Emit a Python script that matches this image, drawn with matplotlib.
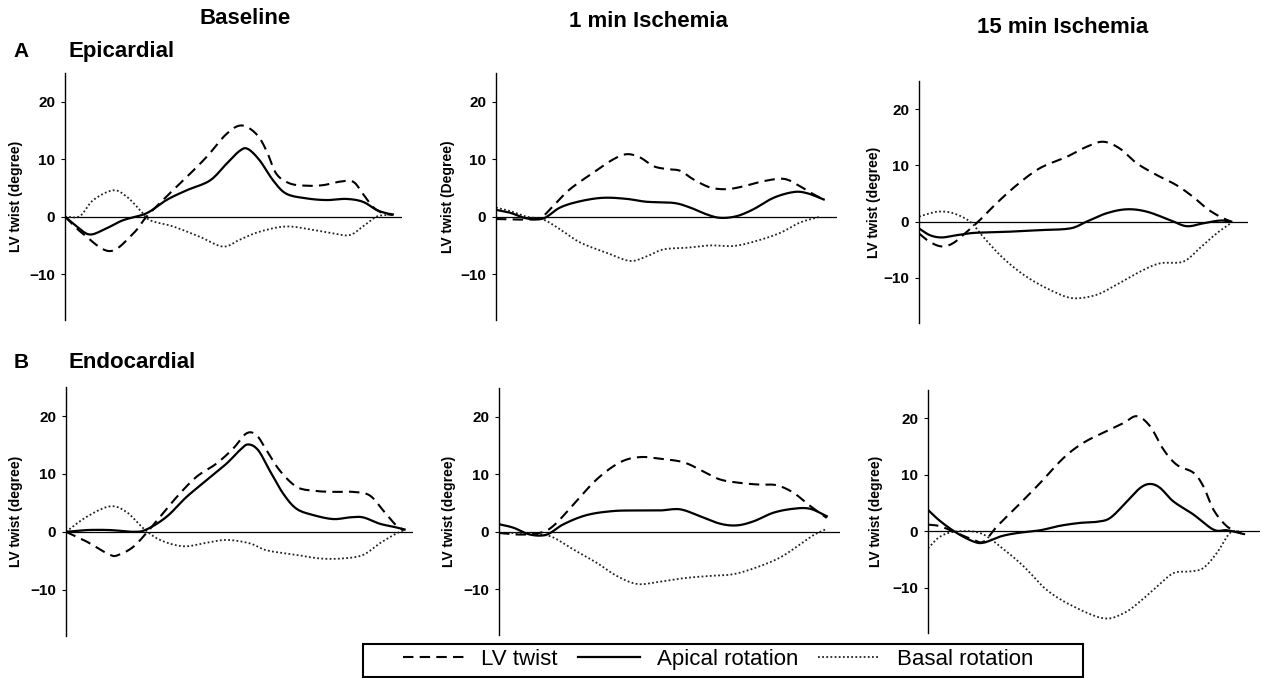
import matplotlib
matplotlib.use("Agg")
import matplotlib.pyplot as plt
from matplotlib.lines import Line2D
from matplotlib.patches import Rectangle
import numpy as np

plt.rcParams['font.family'] = ['Liberation Sans', 'DejaVu Sans']

# time axis is % of the cardiac cycle shown in each panel
# ---- A: Epicardial ----
epi_base_twist_x = [0, 5.4, 13.3, 20.3, 24.2, 30.1, 36.1, 42.0, 47.9, 52.4, 56.8, 59.8, 62.7, 66.7, 71.6, 76.6, 81.5, 85.5, 88.4, 91.4, 94.4, 97.3]
epi_base_twist_y = [0, -3.0, -6.0, -2.9, 0, 3.5, 6.9, 10.4, 14.4, 15.9, 14.4, 11.5, 7.5, 5.8, 5.4, 5.5, 6.1, 6.1, 4.0, 1.7, 0.6, 0.3]
epi_base_apical_x = [0, 3.5, 7.4, 12.4, 17.3, 24.2, 30.1, 36.1, 43.0, 47.9, 51.9, 54.3, 57.8, 61.8, 65.7, 71.6, 77.6, 83.5, 88.4, 92.4, 95.4, 97.3]
epi_base_apical_y = [0, -1.7, -3.1, -2.0, -0.6, 0.6, 2.9, 4.6, 6.3, 9.2, 11.5, 11.8, 9.8, 6.3, 4.0, 3.2, 2.9, 3.1, 2.6, 1.2, 0.6, 0.4]
epi_base_basal_x = [0, 4.4, 8.4, 14.3, 18.3, 22.2, 25.2, 32.1, 40.0, 46.9, 51.9, 57.8, 65.7, 73.6, 79.5, 84.5, 88.4, 92.4, 95.4]
epi_base_basal_y = [0, 0.1, 2.9, 4.6, 3.5, 1.2, -0.6, -1.7, -3.5, -5.2, -4.0, -2.6, -1.7, -2.3, -2.9, -3.2, -1.7, 0, 0.3]

epi_1min_twist_x = [0, 7.0, 12.9, 16.8, 21.7, 28.6, 34.4, 38.4, 42.3, 46.2, 50.1, 54.0, 57.9, 62.8, 67.7, 72.6, 78.5, 84.3, 88.3, 92.2, 96.1]
epi_1min_twist_y = [-0.4, -0.5, -0.2, 1.9, 4.8, 7.7, 10.0, 10.9, 10.3, 8.8, 8.3, 8.0, 6.5, 5.1, 4.8, 5.3, 6.2, 6.6, 5.6, 4.2, 3.0]
epi_1min_apical_x = [0, 4.1, 9.0, 13.9, 18.8, 24.7, 31.5, 38.4, 44.2, 52.1, 56.9, 61.8, 65.8, 70.6, 75.5, 81.4, 87.3, 91.2, 96.1]
epi_1min_apical_y = [1.2, 0.7, -0.3, -0.3, 1.6, 2.7, 3.3, 3.1, 2.6, 2.4, 1.6, 0.4, -0.2, 0.1, 1.3, 3.3, 4.3, 4.1, 3.0]
epi_1min_basal_x = [0, 4.1, 9.0, 13.9, 18.8, 24.7, 32.5, 39.3, 44.2, 49.1, 56.0, 62.8, 69.7, 76.5, 83.4, 89.2, 95.1]
epi_1min_basal_y = [1.6, 1.0, 0, -0.5, -2.2, -4.5, -6.3, -7.7, -6.9, -5.7, -5.4, -5.0, -5.1, -4.2, -2.8, -1.0, 0]

epi_15min_twist_x = [0, 3.3, 6.9, 10.4, 14.5, 18.5, 23.6, 29.7, 36.7, 44.8, 50.9, 56.0, 61.0, 66.1, 72.2, 78.2, 83.3, 87.3, 91.4, 94.9]
epi_15min_twist_y = [-2.1, -3.6, -4.4, -3.8, -1.8, 0.3, 3.3, 6.5, 9.5, 11.5, 13.3, 14.2, 13.0, 10.4, 8.3, 6.5, 4.4, 2.4, 0.9, 0]
epi_15min_apical_x = [0, 3.3, 6.9, 11.4, 16.5, 26.6, 36.7, 45.9, 50.9, 57.0, 63.1, 69.1, 76.2, 81.3, 86.3, 91.4, 94.9]
epi_15min_apical_y = [-1.2, -2.4, -2.8, -2.4, -2.0, -1.8, -1.5, -1.2, 0, 1.5, 2.2, 1.8, 0.3, -0.8, -0.3, 0.2, 0]
epi_15min_basal_x = [0, 3.3, 6.4, 10.4, 15.5, 19.5, 25.6, 32.7, 40.8, 46.9, 53.9, 60.0, 67.1, 73.2, 80.3, 85.3, 90.4, 94.9]
epi_15min_basal_y = [0.9, 1.5, 1.8, 1.5, 0, -2.7, -6.5, -9.8, -12.4, -13.6, -13.0, -11.2, -8.9, -7.4, -7.1, -4.7, -2.1, -0.2]

# ---- B: Endocardial ----
endo_base_twist_x = [0, 6.0, 12.7, 15.5, 19.4, 23.2, 27.1, 31.9, 37.6, 43.4, 48.2, 52.0, 54.9, 57.8, 61.6, 66.4, 71.2, 77.0, 82.7, 87.5, 91.4, 95.2, 97.6]
endo_base_twist_y = [0, -1.7, -4.0, -3.9, -2.6, -0.2, 2.6, 6.0, 9.5, 11.8, 14.4, 17.0, 16.7, 14.1, 10.6, 7.8, 7.1, 6.9, 6.9, 6.3, 3.7, 1.1, 0.3]
endo_base_apical_x = [0, 6.0, 12.7, 19.4, 23.2, 29.0, 34.7, 40.5, 46.3, 50.1, 52.5, 55.4, 58.7, 62.6, 66.4, 71.2, 77.0, 81.8, 85.6, 90.4, 94.2, 97.6]
endo_base_apical_y = [0, 0.3, 0.3, 0, 0.4, 2.6, 6.0, 8.9, 11.8, 14.1, 15.1, 14.1, 10.6, 6.6, 4.0, 2.9, 2.2, 2.5, 2.5, 1.4, 0.9, 0.4]
endo_base_basal_x = [0, 6.0, 12.7, 17.5, 22.3, 27.1, 33.8, 40.5, 46.3, 53.0, 57.8, 65.5, 73.1, 79.8, 85.6, 90.4, 95.2, 97.6]
endo_base_basal_y = [0, 2.6, 4.4, 3.4, 0.6, -1.4, -2.5, -1.9, -1.4, -2.0, -3.2, -3.9, -4.6, -4.6, -4.0, -2.0, -0.3, 0.3]

endo_1min_twist_x = [0, 6.2, 12.0, 15.9, 21.8, 28.6, 35.5, 41.3, 47.2, 54.1, 59.9, 64.8, 70.7, 76.5, 81.4, 86.3, 91.2, 96.1]
endo_1min_twist_y = [-0.2, -0.5, -0.2, 1.0, 4.7, 9.1, 12.1, 13.0, 12.7, 12.1, 10.5, 9.1, 8.5, 8.2, 8.1, 6.8, 4.5, 2.4]
endo_1min_apical_x = [0, 4.2, 9.1, 14.0, 18.9, 25.7, 33.5, 41.3, 47.2, 53.1, 58.9, 64.8, 69.7, 74.6, 80.4, 86.3, 91.2, 96.1]
endo_1min_apical_y = [1.3, 0.7, -0.5, -0.5, 1.3, 2.9, 3.6, 3.7, 3.7, 3.9, 2.7, 1.4, 1.1, 1.8, 3.3, 4.0, 4.0, 2.7]
endo_1min_basal_x = [0, 6.2, 12.0, 15.9, 21.8, 28.6, 34.5, 40.4, 46.2, 54.1, 61.9, 68.7, 75.6, 82.4, 88.3, 92.2, 96.1]
endo_1min_basal_y = [-0.3, -0.2, -0.5, -1.0, -3.1, -5.4, -7.7, -9.1, -8.8, -8.1, -7.7, -7.4, -6.2, -4.5, -2.2, -0.6, 0.5]

endo_15min_twist_x = [0, 3.7, 8.7, 13.7, 16.8, 20.8, 26.8, 33.8, 40.8, 46.8, 53.9, 58.9, 62.9, 66.9, 70.9, 74.9, 79.9, 82.9, 86.0, 90.0, 94.0, 95.5]
endo_15min_twist_y = [1.2, 0.9, -0.3, -1.5, -1.8, 0.9, 4.4, 8.6, 13.0, 15.7, 17.8, 19.2, 20.4, 18.6, 14.5, 11.8, 10.4, 8.0, 3.8, 0.9, -0.3, -0.5]
endo_15min_apical_x = [0, 3.7, 8.7, 13.7, 16.8, 21.8, 26.8, 33.8, 39.8, 45.8, 50.9, 54.9, 59.9, 63.9, 66.9, 69.9, 73.9, 79.9, 86.0, 90.0, 94.0]
endo_15min_apical_y = [3.8, 1.8, -0.3, -1.8, -2.0, -0.9, -0.3, 0.2, 1.0, 1.5, 1.7, 2.4, 5.3, 7.7, 8.4, 7.7, 5.3, 3.0, 0.3, 0.2, -0.3]
endo_15min_basal_x = [0, 3.7, 8.7, 15.7, 21.8, 28.8, 35.8, 43.8, 52.9, 58.9, 63.9, 68.9, 73.9, 78.9, 82.9, 87.0, 90.9, 94.0]
endo_15min_basal_y = [-3.0, -0.9, 0, -0.3, -2.7, -6.2, -10.4, -13.3, -15.4, -14.5, -12.4, -9.8, -7.4, -7.1, -6.5, -3.8, -0.3, 0]

col_titles = ["Baseline", "1 min Ischemia", "15 min Ischemia"]
ylabels = ["LV twist (degree)", "LV twist (Degree)", "LV twist (degree)",
           "LV twist (degree)", "LV twist (degree)", "LV twist (degree)"]
yticks = [-10, 0, 10, 20]
legend_labels = ["LV twist", "Apical rotation", "Basal rotation"]


def smooth(x, y, n=10):
    # catmull-rom through the read points
    x = np.asarray(x, float)
    y = np.asarray(y, float)
    px = np.concatenate([[2 * x[0] - x[1]], x, [2 * x[-1] - x[-2]]])
    py = np.concatenate([[2 * y[0] - y[1]], y, [2 * y[-1] - y[-2]]])
    t = np.linspace(0, 1, n, endpoint=False)
    ox, oy = [], []
    for i in range(1, len(px) - 2):
        for p, o in ((px, ox), (py, oy)):
            p0, p1, p2, p3 = p[i - 1], p[i], p[i + 1], p[i + 2]
            o.extend(0.5 * (2 * p1 + (-p0 + p2) * t + (2 * p0 - 5 * p1 + 4 * p2 - p3) * t ** 2
                            + (-p0 + 3 * p1 - 3 * p2 + p3) * t ** 3))
    ox.append(x[-1])
    oy.append(y[-1])
    return ox, oy


dash_style = dict(color='black', lw=1.5, linestyle=(0, (5, 3)))
solid_style = dict(color='black', lw=1.6, linestyle='-')
dot_style = dict(color='#222222', lw=1.3, linestyle=(0, (1, 1.3)))

panels = [
    ([0.0514, 0.528, 0.2666, 0.364], -0.125,
     (epi_base_twist_x, epi_base_twist_y), (epi_base_apical_x, epi_base_apical_y), (epi_base_basal_x, epi_base_basal_y)),
    ([0.3924, 0.528, 0.2698, 0.364], -0.12,
     (epi_1min_twist_x, epi_1min_twist_y), (epi_1min_apical_x, epi_1min_apical_y), (epi_1min_basal_x, epi_1min_basal_y)),
    ([0.7271, 0.5236, 0.2603, 0.357], -0.115,
     (epi_15min_twist_x, epi_15min_twist_y), (epi_15min_apical_x, epi_15min_apical_y), (epi_15min_basal_x, epi_15min_basal_y)),
    ([0.0522, 0.062, 0.2745, 0.367], -0.124,
     (endo_base_twist_x, endo_base_twist_y), (endo_base_apical_x, endo_base_apical_y), (endo_base_basal_x, endo_base_basal_y)),
    ([0.3948, 0.0634, 0.2698, 0.364], -0.126,
     (endo_1min_twist_x, endo_1min_twist_y), (endo_1min_apical_x, endo_1min_apical_y), (endo_1min_basal_x, endo_1min_basal_y)),
    ([0.7342, 0.0664, 0.2627, 0.358], -0.136,
     (endo_15min_twist_x, endo_15min_twist_y), (endo_15min_apical_x, endo_15min_apical_y), (endo_15min_basal_x, endo_15min_basal_y)),
]

fig = plt.figure(figsize=(12.64, 6.78), dpi=100)

for k, (rect, labx, twist, apical, basal) in enumerate(panels):
    ax = fig.add_axes(rect)
    ax.axhline(0, color='black', lw=0.9, zorder=1)
    ax.plot(*smooth(*basal), **dot_style)
    ax.plot(*smooth(*twist), **dash_style)
    ax.plot(*smooth(*apical), **solid_style)
    ax.set_xlim(0, 100)
    ax.set_ylim(-18, 25)
    ax.set_yticks(yticks)
    for s in ['top', 'right', 'bottom']:
        ax.spines[s].set_visible(False)
    ax.spines['left'].set_linewidth(1.0)
    ax.set_xticks([])
    ax.tick_params(axis='y', length=3, width=0.8, pad=4, labelsize=11)
    for lab in ax.get_yticklabels():
        lab.set_fontweight('bold')
    ax.set_ylabel(ylabels[k], fontsize=10, fontweight='bold')
    ax.yaxis.set_label_coords(labx, 0.5)

# column headers and row labels
fig.text(245 / 1264, 0.9646, col_titles[0], ha='center', va='baseline', fontsize=16, fontweight='bold')
fig.text(648 / 1264, 0.9607, col_titles[1], ha='center', va='baseline', fontsize=16, fontweight='bold')
fig.text(1063 / 1264, 0.9518, col_titles[2], ha='center', va='baseline', fontsize=16, fontweight='bold')
fig.text(13 / 1264, 0.916, "A", ha='left', va='baseline', fontsize=15, fontweight='bold')
fig.text(68 / 1264, 0.916, "Epicardial", ha='left', va='baseline', fontsize=16, fontweight='bold')
fig.text(14 / 1264, 0.457, "B", ha='left', va='baseline', fontsize=15, fontweight='bold')
fig.text(68 / 1264, 0.457, "Endocardial", ha='left', va='baseline', fontsize=16, fontweight='bold')

# legend without its own frame; the wide box is drawn separately
handles = [Line2D([], [], **dash_style), Line2D([], [], **solid_style), Line2D([], [], **dot_style)]
leg = fig.legend(handles, legend_labels, loc='center', bbox_to_anchor=(718 / 1264, 0.0273),
                 ncol=3, fontsize=16, frameon=False, handlelength=2.8,
                 handletextpad=0.75, columnspacing=0.9, borderpad=0.15, borderaxespad=0)
fig.patches.append(Rectangle((363 / 1264, 1 - 677 / 678), 720 / 1264, 33 / 678,
                             transform=fig.transFigure, fill=False, edgecolor='black', lw=1.5))

plt.savefig("out.png", dpi=100)
plt.close()
